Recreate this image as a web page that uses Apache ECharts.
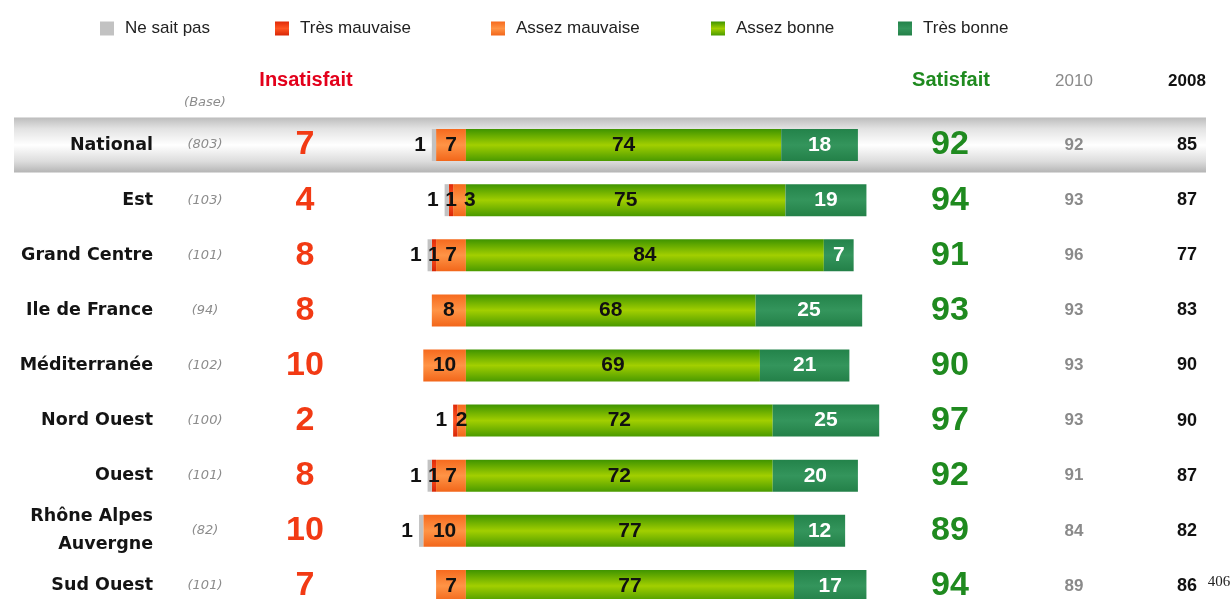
<!DOCTYPE html>
<html>
<head>
<meta charset="utf-8">
<script src="https://cdn.jsdelivr.net/npm/echarts@6/dist/echarts.min.js"></script>
<style>
html,body{margin:0;padding:0;background:#fff;overflow:hidden;}
#c{width:1232px;height:625px;}
</style>
</head>
<body>
<div id="c"></div>
<script>
// ---- data ----
const regions = ['National','Est','Grand Centre','Ile de France','Méditerranée','Nord Ouest','Ouest','Rhône Alpes\nAuvergne','Sud Ouest'];
const bases = ['(803)','(103)','(101)','(94)','(102)','(100)','(101)','(82)','(101)'];
const nsp = [1,1,1,0,0,0,1,1,0];          // Ne sait pas
const tresMauvaise = [0,1,1,0,0,1,1,0,0];
const assezMauvaise = [7,3,7,8,10,2,7,10,7];
const assezBonne = [74,75,84,68,69,72,72,77,77];
const tresBonne = [18,19,7,25,21,25,20,12,17];
const insatisfait = [7,4,8,8,10,2,8,10,7];
const satisfait = [92,94,91,93,90,97,92,89,94];
const y2010 = [92,93,96,93,93,93,91,84,89];
const y2008 = [85,87,77,83,90,90,87,82,86];
const seriesNames = ['Ne sait pas','Très mauvaise','Assez mauvaise','Assez bonne','Très bonne'];

const G = echarts.graphic.LinearGradient;
function vg(edge, mid, edge2){
  return new G(0,0,0,1,[{offset:0,color:edge},{offset:0.5,color:mid},{offset:1,color:edge2||edge}]);
}
const colGray = '#c2c2c2';
const colRed = vg('#e02a08','#ff5522','#d82606');
const colOrange = vg('#f66a1e','#ff9446','#f2661a');
const colGreen = vg('#3f9400','#a2cf00','#4a9a00');
const colDark = vg('#23834a','#34955c','#238048');

const labelFont = {fontFamily:'Liberation Sans, Arial, sans-serif', fontWeight:'bold', fontSize:21};
function fmt(p){ const v=Math.abs(p.value); return v ? String(v) : ''; }

const GRID_LEFT = 402, GRID_W = 490, GRID_TOP = 117.5, GRID_H = 496;

function colAxis(pos, offset, arr, style){
  return {
    type:'category', data:regions, inverse:true, position:pos, offset:offset, gridIndex:0,
    axisLine:{show:false}, axisTick:{show:false}, splitLine:{show:false},
    axisLabel:Object.assign({margin:0, align:'center', interval:0, formatter:(v,i)=>String(arr[i])}, style)
  };
}

const option = {
  animation:false,
  backgroundColor:'#ffffff',
  legend: [
    {name:seriesNames[0], left:95},
    {name:seriesNames[1], left:270},
    {name:seriesNames[2], left:486},
    {name:seriesNames[3], left:706},
    {name:seriesNames[4], left:893}
  ].map(l=>({
    data:[l.name], left:l.left, top:15, itemWidth:14, itemHeight:14, icon:'rect', selectedMode:false,
    textStyle:{fontFamily:'Liberation Sans, Arial, sans-serif', fontSize:17, color:'#222', padding:[0,0,0,6]}
  })),
  grid:{left:GRID_LEFT, top:GRID_TOP, width:GRID_W, height:GRID_H, containLabel:false},
  xAxis:{type:'value', min:-15, max:100, show:false, splitLine:{show:false}},
  yAxis:[
    {type:'category', data:regions, inverse:true, axisLine:{show:false}, axisTick:{show:false}, axisLabel:{show:false}},
    Object.assign(colAxis('left', GRID_LEFT-153, regions, {
      align:'right', fontFamily:'DejaVu Sans, sans-serif', fontWeight:'bold', fontSize:17.5, color:'#141414', lineHeight:28,
      formatter:(v)=>v})),
    colAxis('left', GRID_LEFT-205, bases, {fontFamily:'DejaVu Sans, sans-serif', fontStyle:'italic', fontSize:13, color:'#8c8c8c'}),
    colAxis('left', GRID_LEFT-305, insatisfait, {fontFamily:'Liberation Sans, Arial, sans-serif', fontWeight:'bold', fontSize:34, color:'#f23a14'}),
    colAxis('right', 950-(GRID_LEFT+GRID_W), satisfait, {fontFamily:'Liberation Sans, Arial, sans-serif', fontWeight:'bold', fontSize:34, color:'#1f8a1f'}),
    colAxis('right', 1074-(GRID_LEFT+GRID_W), y2010, {fontFamily:'Liberation Sans, Arial, sans-serif', fontWeight:'bold', fontSize:17, color:'#8a8a8a'}),
    colAxis('right', 1187-(GRID_LEFT+GRID_W), y2008, {fontFamily:'Liberation Sans, Arial, sans-serif', fontWeight:'bold', fontSize:18, color:'#111'})
  ],
  series:[
    {name:seriesNames[2], type:'bar', stack:'t', barWidth:32,
     data:assezMauvaise.map((v,i)=>({value:-v, label: (v<4 && nsp[i]>0) ? {position:'right', distance:-2} : {position:'inside'}})),
     itemStyle:{color:colOrange},
     label:Object.assign({show:true, color:'#111', formatter:fmt}, labelFont)},
    {name:seriesNames[1], type:'bar', stack:'t', barWidth:32,
     data:tresMauvaise.map((v,i)=>({value:-v, label: nsp[i]===0 ? {position:'left', distance:6} : {position:'inside'}})),
     itemStyle:{color:colRed},
     label:Object.assign({show:true, color:'#111', formatter:fmt}, labelFont)},
    {name:seriesNames[0], type:'bar', stack:'t', barWidth:32, data:nsp.map(v=>-v),
     itemStyle:{color:colGray},
     label:Object.assign({show:true, position:'left', distance:6, color:'#111', formatter:fmt}, labelFont)},
    {name:seriesNames[3], type:'bar', stack:'t', barWidth:32, data:assezBonne,
     itemStyle:{color:colGreen},
     label:Object.assign({show:true, position:'inside', color:'#111', formatter:fmt}, labelFont)},
    {name:seriesNames[4], type:'bar', stack:'t', barWidth:32, data:tresBonne,
     itemStyle:{color:colDark},
     label:Object.assign({show:true, position:'inside', color:'#fff', formatter:fmt}, labelFont)}
  ]
};

const chart = echarts.init(document.getElementById('c'), null, {renderer:'canvas'});
chart.setOption(option);

// decorations: header texts and highlight band for the National row
const yc = chart.convertToPixel({yAxisIndex:0}, regions[0]);
const band = GRID_H / regions.length;
const hdrFont = 'bold 20px "Liberation Sans", Arial, sans-serif';
chart.setOption({
  graphic:[
    {type:'rect', z:-100, silent:true, shape:{x:14, y:yc-band/2, width:1192, height:band},
     style:{fill:new G(0,0,0,1,[{offset:0,color:'#bcbcbc'},{offset:0.2,color:'#e2e2e2'},{offset:0.5,color:'#ffffff'},{offset:0.8,color:'#dcdcdc'},{offset:1,color:'#b4b4b4'}])}},
    {type:'text', x:306, y:80, style:{text:'Insatisfait', font:hdrFont, fill:'#e3001b', align:'center', verticalAlign:'middle'}},
    {type:'text', x:205, y:103, style:{text:'(Base)', font:'italic 13px "DejaVu Sans", sans-serif', fill:'#8c8c8c', align:'center', verticalAlign:'middle'}},
    {type:'text', x:951, y:80, style:{text:'Satisfait', font:hdrFont, fill:'#1f8a1f', align:'center', verticalAlign:'middle'}},
    {type:'text', x:1074, y:81, style:{text:'2010', font:'17px "Liberation Sans", Arial, sans-serif', fill:'#8a8a8a', align:'center', verticalAlign:'middle'}},
    {type:'text', x:1187, y:81, style:{text:'2008', font:'bold 17px "Liberation Sans", Arial, sans-serif', fill:'#111', align:'center', verticalAlign:'middle'}},
    {type:'text', x:1219, y:582, style:{text:'406', font:'15px "Liberation Serif", serif', fill:'#222', align:'center', verticalAlign:'middle'}}
  ]
});
</script>
</body>
</html>
